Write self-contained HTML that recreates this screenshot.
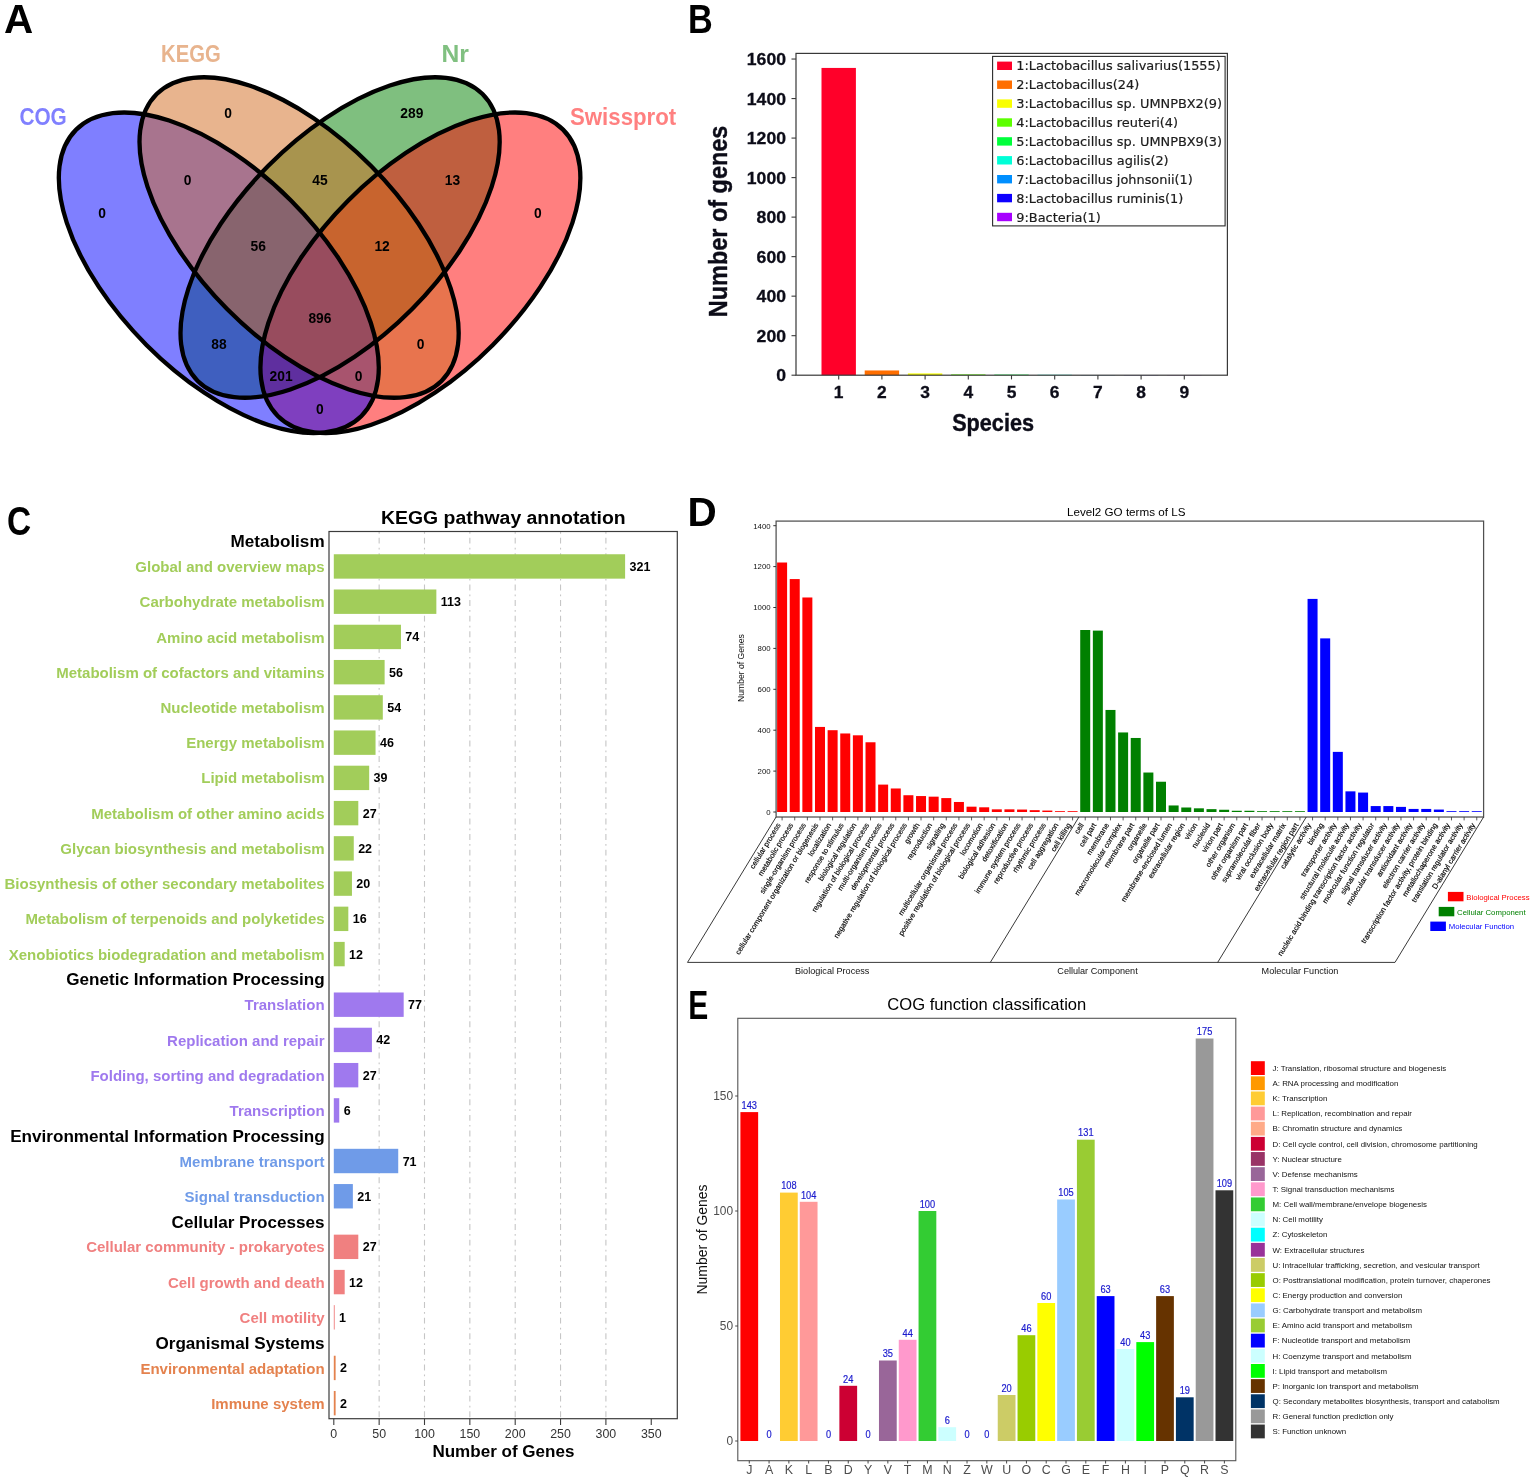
<!DOCTYPE html>
<html lang="en">
<head>
<meta charset="utf-8">
<title>Functional annotation of genes: Venn, species, KEGG, GO and COG</title>
<style>
html,body{margin:0;padding:0;background:#fff;}
body{width:1535px;height:1480px;overflow:hidden;}
svg{display:block;font-family:'Liberation Sans',Arial,Helvetica,sans-serif;}
</style>
</head>
<body>
<svg width="1535" height="1480" viewBox="0 0 1535 1480">
<rect width="1535" height="1480" fill="#fff"/>
<g id="panel-a">
<text x="4.09" y="32.7" font-size="40" font-weight="bold" fill="#000" textLength="29.21" lengthAdjust="spacingAndGlyphs">A</text>
<ellipse cx="340.1" cy="237.5" rx="202.1" ry="101.5" transform="rotate(-45.2 340.1 237.5)" fill="#008000" fill-opacity="0.5"/>
<ellipse cx="420.4" cy="272.8" rx="202.1" ry="102.2" transform="rotate(-45.1 420.4 272.8)" fill="#ff0000" fill-opacity="0.5"/>
<ellipse cx="218.8" cy="272.8" rx="202.1" ry="102.2" transform="rotate(45.1 218.8 272.8)" fill="#0000ff" fill-opacity="0.5"/>
<ellipse cx="299.1" cy="237.5" rx="202.1" ry="101.5" transform="rotate(45.2 299.1 237.5)" fill="#d2691e" fill-opacity="0.5"/>
<ellipse cx="340.1" cy="237.5" rx="202.1" ry="101.5" transform="rotate(-45.2 340.1 237.5)" fill="none" stroke="#000" stroke-width="4.3"/>
<ellipse cx="420.4" cy="272.8" rx="202.1" ry="102.2" transform="rotate(-45.1 420.4 272.8)" fill="none" stroke="#000" stroke-width="4.3"/>
<ellipse cx="218.8" cy="272.8" rx="202.1" ry="102.2" transform="rotate(45.1 218.8 272.8)" fill="none" stroke="#000" stroke-width="4.3"/>
<ellipse cx="299.1" cy="237.5" rx="202.1" ry="101.5" transform="rotate(45.2 299.1 237.5)" fill="none" stroke="#000" stroke-width="4.3"/>
<text x="19.4" y="125.4" font-size="23.4" font-weight="bold" fill="#8080ff" textLength="47.4" lengthAdjust="spacingAndGlyphs">COG</text>
<text x="161" y="62" font-size="23.4" font-weight="bold" fill="#e8b48e" textLength="59.7" lengthAdjust="spacingAndGlyphs">KEGG</text>
<text x="441.4" y="62.1" font-size="23.4" font-weight="bold" fill="#80c080" textLength="27.4" lengthAdjust="spacingAndGlyphs">Nr</text>
<text x="570" y="125" font-size="23.4" font-weight="bold" fill="#ff8080" textLength="106.2" lengthAdjust="spacingAndGlyphs">Swissprot</text>
<g font-weight="bold" font-size="13.8" text-anchor="middle" fill="#000">
<text x="102.1" y="217.9">0</text>
<text x="228.2" y="117.9">0</text>
<text x="187.5" y="185.1">0</text>
<text x="319.9" y="185.1">45</text>
<text x="258.3" y="250.7">56</text>
<text x="319.9" y="322.5">896</text>
<text x="218.9" y="349">88</text>
<text x="281.1" y="381.4">201</text>
<text x="358.6" y="381.4">0</text>
<text x="420.6" y="349">0</text>
<text x="319.9" y="413.7">0</text>
<text x="382.1" y="251.2">12</text>
<text x="411.8" y="117.9">289</text>
<text x="452.5" y="185.1">13</text>
<text x="537.9" y="217.9">0</text>
</g>
</g>
<g id="panel-b">
<text x="687.89" y="32.7" font-size="40" font-weight="bold" fill="#000" textLength="24.74" lengthAdjust="spacingAndGlyphs">B</text>
<rect x="821.5" y="67.93" width="34.4" height="307.27" fill="#ff0029"/>
<rect x="864.7" y="370.46" width="34.4" height="4.74" fill="#ff6e00"/>
<rect x="907.9" y="373.42" width="34.4" height="1.78" fill="#f9ff00"/>
<rect x="951.1" y="374.41" width="34.4" height="0.79" fill="#5cff00"/>
<rect x="994.3" y="374.61" width="34.4" height="0.59" fill="#00ff3b"/>
<rect x="1037.5" y="374.8" width="34.4" height="0.4" fill="#00ffd7"/>
<rect x="1080.7" y="375" width="34.4" height="0.2" fill="#008fff"/>
<rect x="1123.9" y="375" width="34.4" height="0.2" fill="#0e00ff"/>
<rect x="1167.1" y="375" width="34.4" height="0.2" fill="#a700ff"/>
<rect x="796" y="53.4" width="431.4" height="321.8" fill="none" stroke="#383838" stroke-width="1.2"/>
<g font-weight="bold" font-size="17.4" fill="#0c0c18" stroke="#0c0c18" stroke-width="0.3" text-anchor="end">
<line x1="791.5" y1="375.2" x2="796" y2="375.2" stroke="#3a3a3a" stroke-width="1.1"/>
<text x="786" y="381.3" textLength="9.8" lengthAdjust="spacingAndGlyphs">0</text>
<line x1="791.5" y1="335.68" x2="796" y2="335.68" stroke="#3a3a3a" stroke-width="1.1"/>
<text x="786" y="341.78" textLength="29.4" lengthAdjust="spacingAndGlyphs">200</text>
<line x1="791.5" y1="296.16" x2="796" y2="296.16" stroke="#3a3a3a" stroke-width="1.1"/>
<text x="786" y="302.26" textLength="29.4" lengthAdjust="spacingAndGlyphs">400</text>
<line x1="791.5" y1="256.64" x2="796" y2="256.64" stroke="#3a3a3a" stroke-width="1.1"/>
<text x="786" y="262.74" textLength="29.4" lengthAdjust="spacingAndGlyphs">600</text>
<line x1="791.5" y1="217.12" x2="796" y2="217.12" stroke="#3a3a3a" stroke-width="1.1"/>
<text x="786" y="223.22" textLength="29.4" lengthAdjust="spacingAndGlyphs">800</text>
<line x1="791.5" y1="177.6" x2="796" y2="177.6" stroke="#3a3a3a" stroke-width="1.1"/>
<text x="786" y="183.7" textLength="39.2" lengthAdjust="spacingAndGlyphs">1000</text>
<line x1="791.5" y1="138.08" x2="796" y2="138.08" stroke="#3a3a3a" stroke-width="1.1"/>
<text x="786" y="144.18" textLength="39.2" lengthAdjust="spacingAndGlyphs">1200</text>
<line x1="791.5" y1="98.56" x2="796" y2="98.56" stroke="#3a3a3a" stroke-width="1.1"/>
<text x="786" y="104.66" textLength="39.2" lengthAdjust="spacingAndGlyphs">1400</text>
<line x1="791.5" y1="59.04" x2="796" y2="59.04" stroke="#3a3a3a" stroke-width="1.1"/>
<text x="786" y="65.14" textLength="39.2" lengthAdjust="spacingAndGlyphs">1600</text>
</g>
<g font-weight="bold" font-size="17.4" fill="#0c0c18" stroke="#0c0c18" stroke-width="0.3" text-anchor="middle">
<line x1="838.7" y1="375.2" x2="838.7" y2="379.4" stroke="#3a3a3a" stroke-width="1.1"/>
<text x="838.7" y="398.1">1</text>
<line x1="881.9" y1="375.2" x2="881.9" y2="379.4" stroke="#3a3a3a" stroke-width="1.1"/>
<text x="881.9" y="398.1">2</text>
<line x1="925.1" y1="375.2" x2="925.1" y2="379.4" stroke="#3a3a3a" stroke-width="1.1"/>
<text x="925.1" y="398.1">3</text>
<line x1="968.3" y1="375.2" x2="968.3" y2="379.4" stroke="#3a3a3a" stroke-width="1.1"/>
<text x="968.3" y="398.1">4</text>
<line x1="1011.5" y1="375.2" x2="1011.5" y2="379.4" stroke="#3a3a3a" stroke-width="1.1"/>
<text x="1011.5" y="398.1">5</text>
<line x1="1054.7" y1="375.2" x2="1054.7" y2="379.4" stroke="#3a3a3a" stroke-width="1.1"/>
<text x="1054.7" y="398.1">6</text>
<line x1="1097.9" y1="375.2" x2="1097.9" y2="379.4" stroke="#3a3a3a" stroke-width="1.1"/>
<text x="1097.9" y="398.1">7</text>
<line x1="1141.1" y1="375.2" x2="1141.1" y2="379.4" stroke="#3a3a3a" stroke-width="1.1"/>
<text x="1141.1" y="398.1">8</text>
<line x1="1184.3" y1="375.2" x2="1184.3" y2="379.4" stroke="#3a3a3a" stroke-width="1.1"/>
<text x="1184.3" y="398.1">9</text>
</g>
<text x="993.1" y="430.5" font-size="23" text-anchor="middle" font-weight="bold" fill="#0c0c18" textLength="81.8" lengthAdjust="spacingAndGlyphs" stroke="#0c0c18" stroke-width="0.4">Species</text>
<text transform="translate(726.6 221.4) rotate(-90)" font-size="26" text-anchor="middle" font-weight="bold" fill="#0c0c18" textLength="191.6" lengthAdjust="spacingAndGlyphs" stroke="#0c0c18" stroke-width="0.4">Number of genes</text>
<rect x="992.6" y="56.4" width="232.5" height="169.5" fill="#fff" stroke="#2a2a2a" stroke-width="1.1"/>
<g font-family="'DejaVu Sans', 'Liberation Sans', sans-serif" font-size="12.9" fill="#1c1c1c" stroke="#1c1c1c" stroke-width="0.2">
<rect x="997.1" y="61.6" width="14.9" height="8.4" fill="#ff0029" stroke="none"/>
<text x="1016.3" y="69.6">1:Lactobacillus salivarius(1555)</text>
<rect x="997.1" y="80.5" width="14.9" height="8.4" fill="#ff6e00" stroke="none"/>
<text x="1016.3" y="89.4">2:Lactobacillus(24)</text>
<rect x="997.1" y="99.4" width="14.9" height="8.4" fill="#f9ff00" stroke="none"/>
<text x="1016.3" y="108.3">3:Lactobacillus sp. UMNPBX2(9)</text>
<rect x="997.1" y="118.3" width="14.9" height="8.4" fill="#5cff00" stroke="none"/>
<text x="1016.3" y="127.2">4:Lactobacillus reuteri(4)</text>
<rect x="997.1" y="137.2" width="14.9" height="8.4" fill="#00ff3b" stroke="none"/>
<text x="1016.3" y="146.1">5:Lactobacillus sp. UMNPBX9(3)</text>
<rect x="997.1" y="156.1" width="14.9" height="8.4" fill="#00ffd7" stroke="none"/>
<text x="1016.3" y="165">6:Lactobacillus agilis(2)</text>
<rect x="997.1" y="175" width="14.9" height="8.4" fill="#008fff" stroke="none"/>
<text x="1016.3" y="183.9">7:Lactobacillus johnsonii(1)</text>
<rect x="997.1" y="193.9" width="14.9" height="8.4" fill="#0e00ff" stroke="none"/>
<text x="1016.3" y="202.8">8:Lactobacillus ruminis(1)</text>
<rect x="997.1" y="212.8" width="14.9" height="8.4" fill="#a700ff" stroke="none"/>
<text x="1016.3" y="221.7">9:Bacteria(1)</text>
</g>
</g>
<g id="panel-c">
<text x="7.06" y="534.9" font-size="40" font-weight="bold" fill="#000" textLength="24.15" lengthAdjust="spacingAndGlyphs">C</text>
<text x="503.4" y="523.7" font-size="17.6" text-anchor="middle" font-weight="bold" fill="#000" textLength="244.6" lengthAdjust="spacingAndGlyphs">KEGG pathway annotation</text>
<line x1="379.15" y1="531.5" x2="379.15" y2="1418.7" stroke="#c6c6c6" stroke-width="1.1" stroke-dasharray="5.9 4.1 1.7 3.9" stroke-dashoffset="9.4"/>
<line x1="424.5" y1="531.5" x2="424.5" y2="1418.7" stroke="#c6c6c6" stroke-width="1.1" stroke-dasharray="5.9 4.1 1.7 3.9" stroke-dashoffset="9.4"/>
<line x1="469.85" y1="531.5" x2="469.85" y2="1418.7" stroke="#c6c6c6" stroke-width="1.1" stroke-dasharray="5.9 4.1 1.7 3.9" stroke-dashoffset="9.4"/>
<line x1="515.2" y1="531.5" x2="515.2" y2="1418.7" stroke="#c6c6c6" stroke-width="1.1" stroke-dasharray="5.9 4.1 1.7 3.9" stroke-dashoffset="9.4"/>
<line x1="560.55" y1="531.5" x2="560.55" y2="1418.7" stroke="#c6c6c6" stroke-width="1.1" stroke-dasharray="5.9 4.1 1.7 3.9" stroke-dashoffset="9.4"/>
<line x1="605.9" y1="531.5" x2="605.9" y2="1418.7" stroke="#c6c6c6" stroke-width="1.1" stroke-dasharray="5.9 4.1 1.7 3.9" stroke-dashoffset="9.4"/>
<rect x="333.8" y="554.25" width="291.31" height="24.4" fill="#a2cd5a"/>
<rect x="333.8" y="589.49" width="102.55" height="24.4" fill="#a2cd5a"/>
<rect x="333.8" y="624.73" width="67.16" height="24.4" fill="#a2cd5a"/>
<rect x="333.8" y="659.97" width="50.82" height="24.4" fill="#a2cd5a"/>
<rect x="333.8" y="695.21" width="49" height="24.4" fill="#a2cd5a"/>
<rect x="333.8" y="730.45" width="41.74" height="24.4" fill="#a2cd5a"/>
<rect x="333.8" y="765.69" width="35.39" height="24.4" fill="#a2cd5a"/>
<rect x="333.8" y="800.93" width="24.5" height="24.4" fill="#a2cd5a"/>
<rect x="333.8" y="836.17" width="19.96" height="24.4" fill="#a2cd5a"/>
<rect x="333.8" y="871.41" width="18.15" height="24.4" fill="#a2cd5a"/>
<rect x="333.8" y="906.65" width="14.52" height="24.4" fill="#a2cd5a"/>
<rect x="333.8" y="941.89" width="10.89" height="24.4" fill="#a2cd5a"/>
<rect x="333.8" y="992.49" width="69.88" height="24.4" fill="#9f79ee"/>
<rect x="333.8" y="1027.73" width="38.12" height="24.4" fill="#9f79ee"/>
<rect x="333.8" y="1062.97" width="24.5" height="24.4" fill="#9f79ee"/>
<rect x="333.8" y="1098.21" width="5.45" height="24.4" fill="#9f79ee"/>
<rect x="333.8" y="1148.81" width="64.43" height="24.4" fill="#6f9be8"/>
<rect x="333.8" y="1184.05" width="19.06" height="24.4" fill="#6f9be8"/>
<rect x="333.8" y="1234.65" width="24.5" height="24.4" fill="#f08080"/>
<rect x="333.8" y="1269.89" width="10.89" height="24.4" fill="#f08080"/>
<rect x="333.8" y="1305.13" width="0.91" height="24.4" fill="#f08080"/>
<rect x="333.8" y="1355.73" width="1.81" height="24.4" fill="#e4824e"/>
<rect x="333.8" y="1390.97" width="1.81" height="24.4" fill="#e4824e"/>
<rect x="329" y="531.5" width="348.3" height="887.2" fill="none" stroke="#3c3c3c" stroke-width="1.2"/>
<text x="324.6" y="547.25" font-size="17.1" text-anchor="end" font-weight="bold" fill="#000">Metabolism</text>
<text x="324.6" y="572.05" font-size="15" text-anchor="end" font-weight="bold" fill="#a2cd5a">Global and overview maps</text>
<text x="324.6" y="607.29" font-size="15" text-anchor="end" font-weight="bold" fill="#a2cd5a">Carbohydrate metabolism</text>
<text x="324.6" y="642.53" font-size="15" text-anchor="end" font-weight="bold" fill="#a2cd5a">Amino acid metabolism</text>
<text x="324.6" y="677.77" font-size="15" text-anchor="end" font-weight="bold" fill="#a2cd5a">Metabolism of cofactors and vitamins</text>
<text x="324.6" y="713.01" font-size="15" text-anchor="end" font-weight="bold" fill="#a2cd5a">Nucleotide metabolism</text>
<text x="324.6" y="748.25" font-size="15" text-anchor="end" font-weight="bold" fill="#a2cd5a">Energy metabolism</text>
<text x="324.6" y="783.49" font-size="15" text-anchor="end" font-weight="bold" fill="#a2cd5a">Lipid metabolism</text>
<text x="324.6" y="818.73" font-size="15" text-anchor="end" font-weight="bold" fill="#a2cd5a">Metabolism of other amino acids</text>
<text x="324.6" y="853.97" font-size="15" text-anchor="end" font-weight="bold" fill="#a2cd5a">Glycan biosynthesis and metabolism</text>
<text x="324.6" y="889.21" font-size="15" text-anchor="end" font-weight="bold" fill="#a2cd5a">Biosynthesis of other secondary metabolites</text>
<text x="324.6" y="924.45" font-size="15" text-anchor="end" font-weight="bold" fill="#a2cd5a">Metabolism of terpenoids and polyketides</text>
<text x="324.6" y="959.69" font-size="15" text-anchor="end" font-weight="bold" fill="#a2cd5a">Xenobiotics biodegradation and metabolism</text>
<text x="324.6" y="985.49" font-size="17.1" text-anchor="end" font-weight="bold" fill="#000">Genetic Information Processing</text>
<text x="324.6" y="1010.29" font-size="15" text-anchor="end" font-weight="bold" fill="#9f79ee">Translation</text>
<text x="324.6" y="1045.53" font-size="15" text-anchor="end" font-weight="bold" fill="#9f79ee">Replication and repair</text>
<text x="324.6" y="1080.77" font-size="15" text-anchor="end" font-weight="bold" fill="#9f79ee">Folding, sorting and degradation</text>
<text x="324.6" y="1116.01" font-size="15" text-anchor="end" font-weight="bold" fill="#9f79ee">Transcription</text>
<text x="324.6" y="1141.81" font-size="17.1" text-anchor="end" font-weight="bold" fill="#000">Environmental Information Processing</text>
<text x="324.6" y="1166.61" font-size="15" text-anchor="end" font-weight="bold" fill="#6f9be8">Membrane transport</text>
<text x="324.6" y="1201.85" font-size="15" text-anchor="end" font-weight="bold" fill="#6f9be8">Signal transduction</text>
<text x="324.6" y="1227.65" font-size="17.1" text-anchor="end" font-weight="bold" fill="#000">Cellular Processes</text>
<text x="324.6" y="1252.45" font-size="15" text-anchor="end" font-weight="bold" fill="#f08080">Cellular community - prokaryotes</text>
<text x="324.6" y="1287.69" font-size="15" text-anchor="end" font-weight="bold" fill="#f08080">Cell growth and death</text>
<text x="324.6" y="1322.93" font-size="15" text-anchor="end" font-weight="bold" fill="#f08080">Cell motility</text>
<text x="324.6" y="1348.73" font-size="17.1" text-anchor="end" font-weight="bold" fill="#000">Organismal Systems</text>
<text x="324.6" y="1373.53" font-size="15" text-anchor="end" font-weight="bold" fill="#e4824e">Environmental adaptation</text>
<text x="324.6" y="1408.77" font-size="15" text-anchor="end" font-weight="bold" fill="#e4824e">Immune system</text>
<text x="629.51" y="570.95" font-size="12.5" font-weight="bold" fill="#000">321</text>
<text x="440.75" y="606.19" font-size="12.5" font-weight="bold" fill="#000">113</text>
<text x="405.36" y="641.43" font-size="12.5" font-weight="bold" fill="#000">74</text>
<text x="389.02" y="676.67" font-size="12.5" font-weight="bold" fill="#000">56</text>
<text x="387.2" y="711.91" font-size="12.5" font-weight="bold" fill="#000">54</text>
<text x="379.94" y="747.15" font-size="12.5" font-weight="bold" fill="#000">46</text>
<text x="373.59" y="782.39" font-size="12.5" font-weight="bold" fill="#000">39</text>
<text x="362.7" y="817.63" font-size="12.5" font-weight="bold" fill="#000">27</text>
<text x="358.16" y="852.87" font-size="12.5" font-weight="bold" fill="#000">22</text>
<text x="356.35" y="888.11" font-size="12.5" font-weight="bold" fill="#000">20</text>
<text x="352.72" y="923.35" font-size="12.5" font-weight="bold" fill="#000">16</text>
<text x="349.09" y="958.59" font-size="12.5" font-weight="bold" fill="#000">12</text>
<text x="408.08" y="1009.19" font-size="12.5" font-weight="bold" fill="#000">77</text>
<text x="376.31" y="1044.43" font-size="12.5" font-weight="bold" fill="#000">42</text>
<text x="362.7" y="1079.67" font-size="12.5" font-weight="bold" fill="#000">27</text>
<text x="343.64" y="1114.91" font-size="12.5" font-weight="bold" fill="#000">6</text>
<text x="402.63" y="1165.51" font-size="12.5" font-weight="bold" fill="#000">71</text>
<text x="357.26" y="1200.75" font-size="12.5" font-weight="bold" fill="#000">21</text>
<text x="362.7" y="1251.35" font-size="12.5" font-weight="bold" fill="#000">27</text>
<text x="349.09" y="1286.59" font-size="12.5" font-weight="bold" fill="#000">12</text>
<text x="339.11" y="1321.83" font-size="12.5" font-weight="bold" fill="#000">1</text>
<text x="340.01" y="1372.43" font-size="12.5" font-weight="bold" fill="#000">2</text>
<text x="340.01" y="1407.67" font-size="12.5" font-weight="bold" fill="#000">2</text>
<g font-size="12.4" fill="#333" text-anchor="middle">
<line x1="333.8" y1="1418.7" x2="333.8" y2="1425" stroke="#3c3c3c" stroke-width="1.1"/>
<text x="333.8" y="1438.3">0</text>
<line x1="379.15" y1="1418.7" x2="379.15" y2="1425" stroke="#3c3c3c" stroke-width="1.1"/>
<text x="379.15" y="1438.3">50</text>
<line x1="424.5" y1="1418.7" x2="424.5" y2="1425" stroke="#3c3c3c" stroke-width="1.1"/>
<text x="424.5" y="1438.3">100</text>
<line x1="469.85" y1="1418.7" x2="469.85" y2="1425" stroke="#3c3c3c" stroke-width="1.1"/>
<text x="469.85" y="1438.3">150</text>
<line x1="515.2" y1="1418.7" x2="515.2" y2="1425" stroke="#3c3c3c" stroke-width="1.1"/>
<text x="515.2" y="1438.3">200</text>
<line x1="560.55" y1="1418.7" x2="560.55" y2="1425" stroke="#3c3c3c" stroke-width="1.1"/>
<text x="560.55" y="1438.3">250</text>
<line x1="605.9" y1="1418.7" x2="605.9" y2="1425" stroke="#3c3c3c" stroke-width="1.1"/>
<text x="605.9" y="1438.3">300</text>
<line x1="651.25" y1="1418.7" x2="651.25" y2="1425" stroke="#3c3c3c" stroke-width="1.1"/>
<text x="651.25" y="1438.3">350</text>
</g>
<text x="503.4" y="1457.2" font-size="16.4" text-anchor="middle" font-weight="bold" fill="#000" textLength="142" lengthAdjust="spacingAndGlyphs">Number of Genes</text>
</g>
<g id="panel-d">
<text x="687.47" y="525.7" font-size="40" font-weight="bold" fill="#000" textLength="29.24" lengthAdjust="spacingAndGlyphs">D</text>
<text x="1126.2" y="516" font-size="11.7" text-anchor="middle" fill="#000" textLength="118.4" lengthAdjust="spacingAndGlyphs">Level2 GO terms of LS</text>
<rect x="777.1" y="562.51" width="10" height="249.49" fill="#ff0000"/>
<rect x="789.73" y="579.07" width="10" height="232.93" fill="#ff0000"/>
<rect x="802.36" y="597.48" width="10" height="214.52" fill="#ff0000"/>
<rect x="814.99" y="726.93" width="10" height="85.07" fill="#ff0000"/>
<rect x="827.62" y="730.2" width="10" height="81.8" fill="#ff0000"/>
<rect x="840.25" y="733.47" width="10" height="78.53" fill="#ff0000"/>
<rect x="852.88" y="735.31" width="10" height="76.69" fill="#ff0000"/>
<rect x="865.51" y="742.27" width="10" height="69.73" fill="#ff0000"/>
<rect x="878.14" y="784.6" width="10" height="27.4" fill="#ff0000"/>
<rect x="890.77" y="788.48" width="10" height="23.52" fill="#ff0000"/>
<rect x="903.4" y="795.23" width="10" height="16.77" fill="#ff0000"/>
<rect x="916.03" y="796.05" width="10" height="15.95" fill="#ff0000"/>
<rect x="928.66" y="796.66" width="10" height="15.34" fill="#ff0000"/>
<rect x="941.29" y="798.09" width="10" height="13.91" fill="#ff0000"/>
<rect x="953.92" y="801.98" width="10" height="10.02" fill="#ff0000"/>
<rect x="966.55" y="806.68" width="10" height="5.32" fill="#ff0000"/>
<rect x="979.18" y="807.3" width="10" height="4.7" fill="#ff0000"/>
<rect x="991.81" y="809.34" width="10" height="2.66" fill="#ff0000"/>
<rect x="1004.44" y="809.34" width="10" height="2.66" fill="#ff0000"/>
<rect x="1017.07" y="809.55" width="10" height="2.45" fill="#ff0000"/>
<rect x="1029.7" y="810.16" width="10" height="1.84" fill="#ff0000"/>
<rect x="1042.33" y="810.57" width="10" height="1.43" fill="#ff0000"/>
<rect x="1054.96" y="811.18" width="10" height="0.82" fill="#ff0000"/>
<rect x="1067.59" y="811.18" width="10" height="0.82" fill="#ff0000"/>
<rect x="1080.22" y="630" width="10" height="182" fill="#008000"/>
<rect x="1092.85" y="630.61" width="10" height="181.39" fill="#008000"/>
<rect x="1105.48" y="709.95" width="10" height="102.05" fill="#008000"/>
<rect x="1118.11" y="732.45" width="10" height="79.55" fill="#008000"/>
<rect x="1130.74" y="737.97" width="10" height="74.03" fill="#008000"/>
<rect x="1143.37" y="772.53" width="10" height="39.47" fill="#008000"/>
<rect x="1156" y="781.73" width="10" height="30.27" fill="#008000"/>
<rect x="1168.63" y="805.46" width="10" height="6.54" fill="#008000"/>
<rect x="1181.26" y="807.5" width="10" height="4.5" fill="#008000"/>
<rect x="1193.89" y="808.32" width="10" height="3.68" fill="#008000"/>
<rect x="1206.52" y="809.14" width="10" height="2.86" fill="#008000"/>
<rect x="1219.15" y="809.75" width="10" height="2.25" fill="#008000"/>
<rect x="1231.78" y="810.77" width="10" height="1.23" fill="#008000"/>
<rect x="1244.41" y="810.77" width="10" height="1.23" fill="#008000"/>
<rect x="1257.04" y="811.18" width="10" height="0.82" fill="#008000"/>
<rect x="1269.67" y="811.18" width="10" height="0.82" fill="#008000"/>
<rect x="1282.3" y="811.2" width="10" height="0.8" fill="#008000"/>
<rect x="1294.93" y="811.2" width="10" height="0.8" fill="#008000"/>
<rect x="1307.56" y="598.91" width="10" height="213.09" fill="#0000ff"/>
<rect x="1320.19" y="638.38" width="10" height="173.62" fill="#0000ff"/>
<rect x="1332.82" y="751.88" width="10" height="60.12" fill="#0000ff"/>
<rect x="1345.45" y="791.35" width="10" height="20.65" fill="#0000ff"/>
<rect x="1358.08" y="792.57" width="10" height="19.43" fill="#0000ff"/>
<rect x="1370.71" y="806.07" width="10" height="5.93" fill="#0000ff"/>
<rect x="1383.34" y="806.07" width="10" height="5.93" fill="#0000ff"/>
<rect x="1395.97" y="806.89" width="10" height="5.11" fill="#0000ff"/>
<rect x="1408.6" y="808.93" width="10" height="3.07" fill="#0000ff"/>
<rect x="1421.23" y="808.93" width="10" height="3.07" fill="#0000ff"/>
<rect x="1433.86" y="809.55" width="10" height="2.45" fill="#0000ff"/>
<rect x="1446.49" y="811.18" width="10" height="0.82" fill="#0000ff"/>
<rect x="1459.12" y="811.18" width="10" height="0.82" fill="#0000ff"/>
<rect x="1471.75" y="811.2" width="10" height="0.8" fill="#0000ff"/>
<rect x="776.1" y="521.1" width="707.5" height="295.9" fill="none" stroke="#505050" stroke-width="1.25"/>
<line x1="782.1" y1="817" x2="782.1" y2="820.4" stroke="#333" stroke-width="0.8"/>
<line x1="794.73" y1="817" x2="794.73" y2="820.4" stroke="#333" stroke-width="0.8"/>
<line x1="807.36" y1="817" x2="807.36" y2="820.4" stroke="#333" stroke-width="0.8"/>
<line x1="819.99" y1="817" x2="819.99" y2="820.4" stroke="#333" stroke-width="0.8"/>
<line x1="832.62" y1="817" x2="832.62" y2="820.4" stroke="#333" stroke-width="0.8"/>
<line x1="845.25" y1="817" x2="845.25" y2="820.4" stroke="#333" stroke-width="0.8"/>
<line x1="857.88" y1="817" x2="857.88" y2="820.4" stroke="#333" stroke-width="0.8"/>
<line x1="870.51" y1="817" x2="870.51" y2="820.4" stroke="#333" stroke-width="0.8"/>
<line x1="883.14" y1="817" x2="883.14" y2="820.4" stroke="#333" stroke-width="0.8"/>
<line x1="895.77" y1="817" x2="895.77" y2="820.4" stroke="#333" stroke-width="0.8"/>
<line x1="908.4" y1="817" x2="908.4" y2="820.4" stroke="#333" stroke-width="0.8"/>
<line x1="921.03" y1="817" x2="921.03" y2="820.4" stroke="#333" stroke-width="0.8"/>
<line x1="933.66" y1="817" x2="933.66" y2="820.4" stroke="#333" stroke-width="0.8"/>
<line x1="946.29" y1="817" x2="946.29" y2="820.4" stroke="#333" stroke-width="0.8"/>
<line x1="958.92" y1="817" x2="958.92" y2="820.4" stroke="#333" stroke-width="0.8"/>
<line x1="971.55" y1="817" x2="971.55" y2="820.4" stroke="#333" stroke-width="0.8"/>
<line x1="984.18" y1="817" x2="984.18" y2="820.4" stroke="#333" stroke-width="0.8"/>
<line x1="996.81" y1="817" x2="996.81" y2="820.4" stroke="#333" stroke-width="0.8"/>
<line x1="1009.44" y1="817" x2="1009.44" y2="820.4" stroke="#333" stroke-width="0.8"/>
<line x1="1022.07" y1="817" x2="1022.07" y2="820.4" stroke="#333" stroke-width="0.8"/>
<line x1="1034.7" y1="817" x2="1034.7" y2="820.4" stroke="#333" stroke-width="0.8"/>
<line x1="1047.33" y1="817" x2="1047.33" y2="820.4" stroke="#333" stroke-width="0.8"/>
<line x1="1059.96" y1="817" x2="1059.96" y2="820.4" stroke="#333" stroke-width="0.8"/>
<line x1="1072.59" y1="817" x2="1072.59" y2="820.4" stroke="#333" stroke-width="0.8"/>
<line x1="1085.22" y1="817" x2="1085.22" y2="820.4" stroke="#333" stroke-width="0.8"/>
<line x1="1097.85" y1="817" x2="1097.85" y2="820.4" stroke="#333" stroke-width="0.8"/>
<line x1="1110.48" y1="817" x2="1110.48" y2="820.4" stroke="#333" stroke-width="0.8"/>
<line x1="1123.11" y1="817" x2="1123.11" y2="820.4" stroke="#333" stroke-width="0.8"/>
<line x1="1135.74" y1="817" x2="1135.74" y2="820.4" stroke="#333" stroke-width="0.8"/>
<line x1="1148.37" y1="817" x2="1148.37" y2="820.4" stroke="#333" stroke-width="0.8"/>
<line x1="1161" y1="817" x2="1161" y2="820.4" stroke="#333" stroke-width="0.8"/>
<line x1="1173.63" y1="817" x2="1173.63" y2="820.4" stroke="#333" stroke-width="0.8"/>
<line x1="1186.26" y1="817" x2="1186.26" y2="820.4" stroke="#333" stroke-width="0.8"/>
<line x1="1198.89" y1="817" x2="1198.89" y2="820.4" stroke="#333" stroke-width="0.8"/>
<line x1="1211.52" y1="817" x2="1211.52" y2="820.4" stroke="#333" stroke-width="0.8"/>
<line x1="1224.15" y1="817" x2="1224.15" y2="820.4" stroke="#333" stroke-width="0.8"/>
<line x1="1236.78" y1="817" x2="1236.78" y2="820.4" stroke="#333" stroke-width="0.8"/>
<line x1="1249.41" y1="817" x2="1249.41" y2="820.4" stroke="#333" stroke-width="0.8"/>
<line x1="1262.04" y1="817" x2="1262.04" y2="820.4" stroke="#333" stroke-width="0.8"/>
<line x1="1274.67" y1="817" x2="1274.67" y2="820.4" stroke="#333" stroke-width="0.8"/>
<line x1="1287.3" y1="817" x2="1287.3" y2="820.4" stroke="#333" stroke-width="0.8"/>
<line x1="1299.93" y1="817" x2="1299.93" y2="820.4" stroke="#333" stroke-width="0.8"/>
<line x1="1312.56" y1="817" x2="1312.56" y2="820.4" stroke="#333" stroke-width="0.8"/>
<line x1="1325.19" y1="817" x2="1325.19" y2="820.4" stroke="#333" stroke-width="0.8"/>
<line x1="1337.82" y1="817" x2="1337.82" y2="820.4" stroke="#333" stroke-width="0.8"/>
<line x1="1350.45" y1="817" x2="1350.45" y2="820.4" stroke="#333" stroke-width="0.8"/>
<line x1="1363.08" y1="817" x2="1363.08" y2="820.4" stroke="#333" stroke-width="0.8"/>
<line x1="1375.71" y1="817" x2="1375.71" y2="820.4" stroke="#333" stroke-width="0.8"/>
<line x1="1388.34" y1="817" x2="1388.34" y2="820.4" stroke="#333" stroke-width="0.8"/>
<line x1="1400.97" y1="817" x2="1400.97" y2="820.4" stroke="#333" stroke-width="0.8"/>
<line x1="1413.6" y1="817" x2="1413.6" y2="820.4" stroke="#333" stroke-width="0.8"/>
<line x1="1426.23" y1="817" x2="1426.23" y2="820.4" stroke="#333" stroke-width="0.8"/>
<line x1="1438.86" y1="817" x2="1438.86" y2="820.4" stroke="#333" stroke-width="0.8"/>
<line x1="1451.49" y1="817" x2="1451.49" y2="820.4" stroke="#333" stroke-width="0.8"/>
<line x1="1464.12" y1="817" x2="1464.12" y2="820.4" stroke="#333" stroke-width="0.8"/>
<line x1="1476.75" y1="817" x2="1476.75" y2="820.4" stroke="#333" stroke-width="0.8"/>
<g fill="#000" stroke="#000" stroke-width="0.15">
<text transform="translate(778.7 823.6) rotate(-58.6)" font-size="7.5" text-anchor="end" dy="2.6">cellular process</text>
<text transform="translate(791.33 823.6) rotate(-58.6)" font-size="7.5" text-anchor="end" dy="2.6">metabolic process</text>
<text transform="translate(803.96 823.6) rotate(-58.6)" font-size="7.5" text-anchor="end" dy="2.6">single-organism process</text>
<text transform="translate(816.59 823.6) rotate(-58.6)" font-size="7.5" text-anchor="end" dy="2.6">cellular component organization or biogenesis</text>
<text transform="translate(829.22 823.6) rotate(-58.6)" font-size="7.5" text-anchor="end" dy="2.6">localization</text>
<text transform="translate(841.85 823.6) rotate(-58.6)" font-size="7.5" text-anchor="end" dy="2.6">response to stimulus</text>
<text transform="translate(854.48 823.6) rotate(-58.6)" font-size="7.5" text-anchor="end" dy="2.6">biological regulation</text>
<text transform="translate(867.11 823.6) rotate(-58.6)" font-size="7.5" text-anchor="end" dy="2.6">regulation of biological process</text>
<text transform="translate(879.74 823.6) rotate(-58.6)" font-size="7.5" text-anchor="end" dy="2.6">multi-organism process</text>
<text transform="translate(892.37 823.6) rotate(-58.6)" font-size="7.5" text-anchor="end" dy="2.6">developmental process</text>
<text transform="translate(905 823.6) rotate(-58.6)" font-size="7.5" text-anchor="end" dy="2.6">negative regulation of biological process</text>
<text transform="translate(917.63 823.6) rotate(-58.6)" font-size="7.5" text-anchor="end" dy="2.6">growth</text>
<text transform="translate(930.26 823.6) rotate(-58.6)" font-size="7.5" text-anchor="end" dy="2.6">reproduction</text>
<text transform="translate(942.89 823.6) rotate(-58.6)" font-size="7.5" text-anchor="end" dy="2.6">signaling</text>
<text transform="translate(955.52 823.6) rotate(-58.6)" font-size="7.5" text-anchor="end" dy="2.6">multicellular organismal process</text>
<text transform="translate(968.15 823.6) rotate(-58.6)" font-size="7.5" text-anchor="end" dy="2.6">positive regulation of biological process</text>
<text transform="translate(980.78 823.6) rotate(-58.6)" font-size="7.5" text-anchor="end" dy="2.6">locomotion</text>
<text transform="translate(993.41 823.6) rotate(-58.6)" font-size="7.5" text-anchor="end" dy="2.6">biological adhesion</text>
<text transform="translate(1006.04 823.6) rotate(-58.6)" font-size="7.5" text-anchor="end" dy="2.6">detoxification</text>
<text transform="translate(1018.67 823.6) rotate(-58.6)" font-size="7.5" text-anchor="end" dy="2.6">immune system process</text>
<text transform="translate(1031.3 823.6) rotate(-58.6)" font-size="7.5" text-anchor="end" dy="2.6">reproductive process</text>
<text transform="translate(1043.93 823.6) rotate(-58.6)" font-size="7.5" text-anchor="end" dy="2.6">rhythmic process</text>
<text transform="translate(1056.56 823.6) rotate(-58.6)" font-size="7.5" text-anchor="end" dy="2.6">cell aggregation</text>
<text transform="translate(1069.19 823.6) rotate(-58.6)" font-size="7.5" text-anchor="end" dy="2.6">cell killing</text>
<text transform="translate(1081.82 823.6) rotate(-58.6)" font-size="7.5" text-anchor="end" dy="2.6">cell</text>
<text transform="translate(1094.45 823.6) rotate(-58.6)" font-size="7.5" text-anchor="end" dy="2.6">cell part</text>
<text transform="translate(1107.08 823.6) rotate(-58.6)" font-size="7.5" text-anchor="end" dy="2.6">membrane</text>
<text transform="translate(1119.71 823.6) rotate(-58.6)" font-size="7.5" text-anchor="end" dy="2.6">macromolecular complex</text>
<text transform="translate(1132.34 823.6) rotate(-58.6)" font-size="7.5" text-anchor="end" dy="2.6">membrane part</text>
<text transform="translate(1144.97 823.6) rotate(-58.6)" font-size="7.5" text-anchor="end" dy="2.6">organelle</text>
<text transform="translate(1157.6 823.6) rotate(-58.6)" font-size="7.5" text-anchor="end" dy="2.6">organelle part</text>
<text transform="translate(1170.23 823.6) rotate(-58.6)" font-size="7.5" text-anchor="end" dy="2.6">membrane-enclosed lumen</text>
<text transform="translate(1182.86 823.6) rotate(-58.6)" font-size="7.5" text-anchor="end" dy="2.6">extracellular region</text>
<text transform="translate(1195.49 823.6) rotate(-58.6)" font-size="7.5" text-anchor="end" dy="2.6">virion</text>
<text transform="translate(1208.12 823.6) rotate(-58.6)" font-size="7.5" text-anchor="end" dy="2.6">nucleoid</text>
<text transform="translate(1220.75 823.6) rotate(-58.6)" font-size="7.5" text-anchor="end" dy="2.6">virion part</text>
<text transform="translate(1233.38 823.6) rotate(-58.6)" font-size="7.5" text-anchor="end" dy="2.6">other organism</text>
<text transform="translate(1246.01 823.6) rotate(-58.6)" font-size="7.5" text-anchor="end" dy="2.6">other organism part</text>
<text transform="translate(1258.64 823.6) rotate(-58.6)" font-size="7.5" text-anchor="end" dy="2.6">supramolecular fiber</text>
<text transform="translate(1271.27 823.6) rotate(-58.6)" font-size="7.5" text-anchor="end" dy="2.6">viral occlusion body</text>
<text transform="translate(1283.9 823.6) rotate(-58.6)" font-size="7.5" text-anchor="end" dy="2.6">extracellular matrix</text>
<text transform="translate(1296.53 823.6) rotate(-58.6)" font-size="7.5" text-anchor="end" dy="2.6">extracellular region part</text>
<text transform="translate(1309.16 823.6) rotate(-58.6)" font-size="7.5" text-anchor="end" dy="2.6">catalytic activity</text>
<text transform="translate(1321.79 823.6) rotate(-58.6)" font-size="7.5" text-anchor="end" dy="2.6">binding</text>
<text transform="translate(1334.42 823.6) rotate(-58.6)" font-size="7.5" text-anchor="end" dy="2.6">transporter activity</text>
<text transform="translate(1347.05 823.6) rotate(-58.6)" font-size="7.5" text-anchor="end" dy="2.6">structural molecule activity</text>
<text transform="translate(1359.68 823.6) rotate(-58.6)" font-size="7.5" text-anchor="end" dy="2.6">nucleic acid binding transcription factor activity</text>
<text transform="translate(1372.31 823.6) rotate(-58.6)" font-size="7.5" text-anchor="end" dy="2.6">molecular function regulator</text>
<text transform="translate(1384.94 823.6) rotate(-58.6)" font-size="7.5" text-anchor="end" dy="2.6">signal transducer activity</text>
<text transform="translate(1397.57 823.6) rotate(-58.6)" font-size="7.5" text-anchor="end" dy="2.6">molecular transducer activity</text>
<text transform="translate(1410.2 823.6) rotate(-58.6)" font-size="7.5" text-anchor="end" dy="2.6">antioxidant activity</text>
<text transform="translate(1422.83 823.6) rotate(-58.6)" font-size="7.5" text-anchor="end" dy="2.6">electron carrier activity</text>
<text transform="translate(1435.46 823.6) rotate(-58.6)" font-size="7.5" text-anchor="end" dy="2.6">transcription factor activity, protein binding</text>
<text transform="translate(1448.09 823.6) rotate(-58.6)" font-size="7.5" text-anchor="end" dy="2.6">metallochaperone activity</text>
<text transform="translate(1460.72 823.6) rotate(-58.6)" font-size="7.5" text-anchor="end" dy="2.6">translation regulator activity</text>
<text transform="translate(1473.35 823.6) rotate(-58.6)" font-size="7.5" text-anchor="end" dy="2.6">D-alanyl carrier activity</text>
</g>
<g font-size="7.8" fill="#111" text-anchor="end">
<line x1="773.3" y1="812" x2="776.1" y2="812" stroke="#333" stroke-width="1"/>
<text x="770.6" y="814.8">0</text>
<line x1="773.3" y1="771.1" x2="776.1" y2="771.1" stroke="#333" stroke-width="1"/>
<text x="770.6" y="773.9">200</text>
<line x1="773.3" y1="730.2" x2="776.1" y2="730.2" stroke="#333" stroke-width="1"/>
<text x="770.6" y="733">400</text>
<line x1="773.3" y1="689.3" x2="776.1" y2="689.3" stroke="#333" stroke-width="1"/>
<text x="770.6" y="692.1">600</text>
<line x1="773.3" y1="648.4" x2="776.1" y2="648.4" stroke="#333" stroke-width="1"/>
<text x="770.6" y="651.2">800</text>
<line x1="773.3" y1="607.5" x2="776.1" y2="607.5" stroke="#333" stroke-width="1"/>
<text x="770.6" y="610.3">1000</text>
<line x1="773.3" y1="566.6" x2="776.1" y2="566.6" stroke="#333" stroke-width="1"/>
<text x="770.6" y="569.4">1200</text>
<line x1="773.3" y1="525.7" x2="776.1" y2="525.7" stroke="#333" stroke-width="1"/>
<text x="770.6" y="528.5">1400</text>
</g>
<text transform="translate(743.6 668) rotate(-90)" font-size="8.6" text-anchor="middle" fill="#111">Number of Genes</text>
<line x1="776.1" y1="817" x2="687.5" y2="962.4" stroke="#222" stroke-width="0.9"/>
<line x1="1078.92" y1="817" x2="990.32" y2="962.4" stroke="#222" stroke-width="0.9"/>
<line x1="1306.26" y1="817" x2="1217.66" y2="962.4" stroke="#222" stroke-width="0.9"/>
<line x1="1483.6" y1="817" x2="1395" y2="962.4" stroke="#222" stroke-width="0.9"/>
<line x1="687.5" y1="962.4" x2="1395" y2="962.4" stroke="#222" stroke-width="0.9"/>
<text x="832.2" y="973.8" font-size="9.1" text-anchor="middle" fill="#111">Biological Process</text>
<text x="1097.5" y="973.8" font-size="9.1" text-anchor="middle" fill="#111">Cellular Component</text>
<text x="1300" y="973.8" font-size="9.1" text-anchor="middle" fill="#111">Molecular Function</text>
<rect x="1447.9" y="891.9" width="15.6" height="9.4" fill="#ff0000"/>
<text x="1466.3" y="899.5" font-size="7.75" fill="#ff0000">Biological Process</text>
<rect x="1438.7" y="906.9" width="15.6" height="9.4" fill="#008000"/>
<text x="1457.1" y="914.5" font-size="7.75" fill="#008000">Cellular Component</text>
<rect x="1430.3" y="921.6" width="15.6" height="9.4" fill="#0000ff"/>
<text x="1448.7" y="929.2" font-size="7.75" fill="#0000ff">Molecular Function</text>
</g>
<g id="panel-e">
<text x="688.18" y="1018.7" font-size="40" font-weight="bold" fill="#000" textLength="20.01" lengthAdjust="spacingAndGlyphs">E</text>
<text x="986.8" y="1010.3" font-size="17" text-anchor="middle" fill="#000" textLength="199" lengthAdjust="spacingAndGlyphs">COG function classification</text>
<rect x="740.4" y="1112.1" width="17.75" height="328.9" fill="#ff0000"/>
<rect x="779.99" y="1192.6" width="17.75" height="248.4" fill="#ffcc33"/>
<rect x="799.79" y="1201.8" width="17.75" height="239.2" fill="#ff9999"/>
<rect x="839.38" y="1385.8" width="17.75" height="55.2" fill="#cc0033"/>
<rect x="878.97" y="1360.5" width="17.75" height="80.5" fill="#996699"/>
<rect x="898.77" y="1339.8" width="17.75" height="101.2" fill="#ff99cc"/>
<rect x="918.56" y="1211" width="17.75" height="230" fill="#33cc33"/>
<rect x="938.36" y="1427.2" width="17.75" height="13.8" fill="#ccffff"/>
<rect x="997.75" y="1395" width="17.75" height="46" fill="#cccc66"/>
<rect x="1017.54" y="1335.2" width="17.75" height="105.8" fill="#99cc00"/>
<rect x="1037.34" y="1303" width="17.75" height="138" fill="#ffff00"/>
<rect x="1057.14" y="1199.5" width="17.75" height="241.5" fill="#99ccff"/>
<rect x="1076.93" y="1139.7" width="17.75" height="301.3" fill="#99cc33"/>
<rect x="1096.73" y="1296.1" width="17.75" height="144.9" fill="#0000ff"/>
<rect x="1116.52" y="1349" width="17.75" height="92" fill="#ccffff"/>
<rect x="1136.32" y="1342.1" width="17.75" height="98.9" fill="#00ff00"/>
<rect x="1156.12" y="1296.1" width="17.75" height="144.9" fill="#663300"/>
<rect x="1175.91" y="1397.3" width="17.75" height="43.7" fill="#003366"/>
<rect x="1195.71" y="1038.5" width="17.75" height="402.5" fill="#999999"/>
<rect x="1215.5" y="1190.3" width="17.75" height="250.7" fill="#333333"/>
<rect x="737.8" y="1018.3" width="498" height="442.4" fill="none" stroke="#555" stroke-width="1.1"/>
<g font-size="10.8" fill="#1a1acd" stroke="#1a1acd" stroke-width="0.2" text-anchor="middle">
<text x="749.27" y="1108.8" textLength="15.45" lengthAdjust="spacingAndGlyphs">143</text>
<text x="769.07" y="1437.7" textLength="5.15" lengthAdjust="spacingAndGlyphs">0</text>
<text x="788.87" y="1189.3" textLength="15.45" lengthAdjust="spacingAndGlyphs">108</text>
<text x="808.66" y="1198.5" textLength="15.45" lengthAdjust="spacingAndGlyphs">104</text>
<text x="828.46" y="1437.7" textLength="5.15" lengthAdjust="spacingAndGlyphs">0</text>
<text x="848.25" y="1382.5" textLength="10.3" lengthAdjust="spacingAndGlyphs">24</text>
<text x="868.05" y="1437.7" textLength="5.15" lengthAdjust="spacingAndGlyphs">0</text>
<text x="887.85" y="1357.2" textLength="10.3" lengthAdjust="spacingAndGlyphs">35</text>
<text x="907.64" y="1336.5" textLength="10.3" lengthAdjust="spacingAndGlyphs">44</text>
<text x="927.44" y="1207.7" textLength="15.45" lengthAdjust="spacingAndGlyphs">100</text>
<text x="947.23" y="1423.9" textLength="5.15" lengthAdjust="spacingAndGlyphs">6</text>
<text x="967.03" y="1437.7" textLength="5.15" lengthAdjust="spacingAndGlyphs">0</text>
<text x="986.83" y="1437.7" textLength="5.15" lengthAdjust="spacingAndGlyphs">0</text>
<text x="1006.62" y="1391.7" textLength="10.3" lengthAdjust="spacingAndGlyphs">20</text>
<text x="1026.42" y="1331.9" textLength="10.3" lengthAdjust="spacingAndGlyphs">46</text>
<text x="1046.21" y="1299.7" textLength="10.3" lengthAdjust="spacingAndGlyphs">60</text>
<text x="1066.01" y="1196.2" textLength="15.45" lengthAdjust="spacingAndGlyphs">105</text>
<text x="1085.81" y="1136.4" textLength="15.45" lengthAdjust="spacingAndGlyphs">131</text>
<text x="1105.6" y="1292.8" textLength="10.3" lengthAdjust="spacingAndGlyphs">63</text>
<text x="1125.4" y="1345.7" textLength="10.3" lengthAdjust="spacingAndGlyphs">40</text>
<text x="1145.19" y="1338.8" textLength="10.3" lengthAdjust="spacingAndGlyphs">43</text>
<text x="1164.99" y="1292.8" textLength="10.3" lengthAdjust="spacingAndGlyphs">63</text>
<text x="1184.79" y="1394" textLength="10.3" lengthAdjust="spacingAndGlyphs">19</text>
<text x="1204.58" y="1035.2" textLength="15.45" lengthAdjust="spacingAndGlyphs">175</text>
<text x="1224.38" y="1187" textLength="15.45" lengthAdjust="spacingAndGlyphs">109</text>
</g>
<g font-size="12.4" fill="#4d4d4d" text-anchor="middle">
<text x="749.27" y="1473.8">J</text>
<line x1="749.27" y1="1460.7" x2="749.27" y2="1463.5" stroke="#333" stroke-width="0.9"/>
<text x="769.07" y="1473.8">A</text>
<line x1="769.07" y1="1460.7" x2="769.07" y2="1463.5" stroke="#333" stroke-width="0.9"/>
<text x="788.87" y="1473.8">K</text>
<line x1="788.87" y1="1460.7" x2="788.87" y2="1463.5" stroke="#333" stroke-width="0.9"/>
<text x="808.66" y="1473.8">L</text>
<line x1="808.66" y1="1460.7" x2="808.66" y2="1463.5" stroke="#333" stroke-width="0.9"/>
<text x="828.46" y="1473.8">B</text>
<line x1="828.46" y1="1460.7" x2="828.46" y2="1463.5" stroke="#333" stroke-width="0.9"/>
<text x="848.25" y="1473.8">D</text>
<line x1="848.25" y1="1460.7" x2="848.25" y2="1463.5" stroke="#333" stroke-width="0.9"/>
<text x="868.05" y="1473.8">Y</text>
<line x1="868.05" y1="1460.7" x2="868.05" y2="1463.5" stroke="#333" stroke-width="0.9"/>
<text x="887.85" y="1473.8">V</text>
<line x1="887.85" y1="1460.7" x2="887.85" y2="1463.5" stroke="#333" stroke-width="0.9"/>
<text x="907.64" y="1473.8">T</text>
<line x1="907.64" y1="1460.7" x2="907.64" y2="1463.5" stroke="#333" stroke-width="0.9"/>
<text x="927.44" y="1473.8">M</text>
<line x1="927.44" y1="1460.7" x2="927.44" y2="1463.5" stroke="#333" stroke-width="0.9"/>
<text x="947.23" y="1473.8">N</text>
<line x1="947.23" y1="1460.7" x2="947.23" y2="1463.5" stroke="#333" stroke-width="0.9"/>
<text x="967.03" y="1473.8">Z</text>
<line x1="967.03" y1="1460.7" x2="967.03" y2="1463.5" stroke="#333" stroke-width="0.9"/>
<text x="986.83" y="1473.8">W</text>
<line x1="986.83" y1="1460.7" x2="986.83" y2="1463.5" stroke="#333" stroke-width="0.9"/>
<text x="1006.62" y="1473.8">U</text>
<line x1="1006.62" y1="1460.7" x2="1006.62" y2="1463.5" stroke="#333" stroke-width="0.9"/>
<text x="1026.42" y="1473.8">O</text>
<line x1="1026.42" y1="1460.7" x2="1026.42" y2="1463.5" stroke="#333" stroke-width="0.9"/>
<text x="1046.21" y="1473.8">C</text>
<line x1="1046.21" y1="1460.7" x2="1046.21" y2="1463.5" stroke="#333" stroke-width="0.9"/>
<text x="1066.01" y="1473.8">G</text>
<line x1="1066.01" y1="1460.7" x2="1066.01" y2="1463.5" stroke="#333" stroke-width="0.9"/>
<text x="1085.81" y="1473.8">E</text>
<line x1="1085.81" y1="1460.7" x2="1085.81" y2="1463.5" stroke="#333" stroke-width="0.9"/>
<text x="1105.6" y="1473.8">F</text>
<line x1="1105.6" y1="1460.7" x2="1105.6" y2="1463.5" stroke="#333" stroke-width="0.9"/>
<text x="1125.4" y="1473.8">H</text>
<line x1="1125.4" y1="1460.7" x2="1125.4" y2="1463.5" stroke="#333" stroke-width="0.9"/>
<text x="1145.19" y="1473.8">I</text>
<line x1="1145.19" y1="1460.7" x2="1145.19" y2="1463.5" stroke="#333" stroke-width="0.9"/>
<text x="1164.99" y="1473.8">P</text>
<line x1="1164.99" y1="1460.7" x2="1164.99" y2="1463.5" stroke="#333" stroke-width="0.9"/>
<text x="1184.79" y="1473.8">Q</text>
<line x1="1184.79" y1="1460.7" x2="1184.79" y2="1463.5" stroke="#333" stroke-width="0.9"/>
<text x="1204.58" y="1473.8">R</text>
<line x1="1204.58" y1="1460.7" x2="1204.58" y2="1463.5" stroke="#333" stroke-width="0.9"/>
<text x="1224.38" y="1473.8">S</text>
<line x1="1224.38" y1="1460.7" x2="1224.38" y2="1463.5" stroke="#333" stroke-width="0.9"/>
</g>
<g font-size="11.9" fill="#4d4d4d" text-anchor="end">
<line x1="735.2" y1="1441" x2="737.8" y2="1441" stroke="#333" stroke-width="0.9"/>
<text x="733" y="1445.2">0</text>
<line x1="735.2" y1="1326" x2="737.8" y2="1326" stroke="#333" stroke-width="0.9"/>
<text x="733" y="1330.2">50</text>
<line x1="735.2" y1="1211" x2="737.8" y2="1211" stroke="#333" stroke-width="0.9"/>
<text x="733" y="1215.2">100</text>
<line x1="735.2" y1="1096" x2="737.8" y2="1096" stroke="#333" stroke-width="0.9"/>
<text x="733" y="1100.2">150</text>
</g>
<text transform="translate(707.4 1239.5) rotate(-90)" font-size="14.4" text-anchor="middle" fill="#111" textLength="110" lengthAdjust="spacingAndGlyphs">Number of Genes</text>
<g font-size="7.9" fill="#111">
<rect x="1250.9" y="1061.2" width="13.9" height="13.8" fill="#ff0000"/>
<text x="1272.5" y="1070.9">J: Translation, ribosomal structure and biogenesis</text>
<rect x="1250.9" y="1076.34" width="13.9" height="13.8" fill="#ff9900"/>
<text x="1272.5" y="1086.04">A: RNA processing and modification</text>
<rect x="1250.9" y="1091.48" width="13.9" height="13.8" fill="#ffcc33"/>
<text x="1272.5" y="1101.18">K: Transcription</text>
<rect x="1250.9" y="1106.62" width="13.9" height="13.8" fill="#ff9999"/>
<text x="1272.5" y="1116.32">L: Replication, recombination and repair</text>
<rect x="1250.9" y="1121.76" width="13.9" height="13.8" fill="#ffaa88"/>
<text x="1272.5" y="1131.46">B: Chromatin structure and dynamics</text>
<rect x="1250.9" y="1136.9" width="13.9" height="13.8" fill="#cc0033"/>
<text x="1272.5" y="1146.6">D: Cell cycle control, cell division, chromosome partitioning</text>
<rect x="1250.9" y="1152.04" width="13.9" height="13.8" fill="#993366"/>
<text x="1272.5" y="1161.74">Y: Nuclear structure</text>
<rect x="1250.9" y="1167.18" width="13.9" height="13.8" fill="#996699"/>
<text x="1272.5" y="1176.88">V: Defense mechanisms</text>
<rect x="1250.9" y="1182.32" width="13.9" height="13.8" fill="#ff99cc"/>
<text x="1272.5" y="1192.02">T: Signal transduction mechanisms</text>
<rect x="1250.9" y="1197.46" width="13.9" height="13.8" fill="#33cc33"/>
<text x="1272.5" y="1207.16">M: Cell wall/membrane/envelope biogenesis</text>
<rect x="1250.9" y="1212.6" width="13.9" height="13.8" fill="#ccffff"/>
<text x="1272.5" y="1222.3">N: Cell motility</text>
<rect x="1250.9" y="1227.74" width="13.9" height="13.8" fill="#00ffff"/>
<text x="1272.5" y="1237.44">Z: Cytoskeleton</text>
<rect x="1250.9" y="1242.88" width="13.9" height="13.8" fill="#993399"/>
<text x="1272.5" y="1252.58">W: Extracellular structures</text>
<rect x="1250.9" y="1258.02" width="13.9" height="13.8" fill="#cccc66"/>
<text x="1272.5" y="1267.72">U: Intracellular trafficking, secretion, and vesicular transport</text>
<rect x="1250.9" y="1273.16" width="13.9" height="13.8" fill="#99cc00"/>
<text x="1272.5" y="1282.86">O: Posttranslational modification, protein turnover, chaperones</text>
<rect x="1250.9" y="1288.3" width="13.9" height="13.8" fill="#ffff00"/>
<text x="1272.5" y="1298">C: Energy production and conversion</text>
<rect x="1250.9" y="1303.44" width="13.9" height="13.8" fill="#99ccff"/>
<text x="1272.5" y="1313.14">G: Carbohydrate transport and metabolism</text>
<rect x="1250.9" y="1318.58" width="13.9" height="13.8" fill="#99cc33"/>
<text x="1272.5" y="1328.28">E: Amino acid transport and metabolism</text>
<rect x="1250.9" y="1333.72" width="13.9" height="13.8" fill="#0000ff"/>
<text x="1272.5" y="1343.42">F: Nucleotide transport and metabolism</text>
<rect x="1250.9" y="1348.86" width="13.9" height="13.8" fill="#ccffff"/>
<text x="1272.5" y="1358.56">H: Coenzyme transport and metabolism</text>
<rect x="1250.9" y="1364" width="13.9" height="13.8" fill="#00ff00"/>
<text x="1272.5" y="1373.7">I: Lipid transport and metabolism</text>
<rect x="1250.9" y="1379.14" width="13.9" height="13.8" fill="#663300"/>
<text x="1272.5" y="1388.84">P: Inorganic ion transport and metabolism</text>
<rect x="1250.9" y="1394.28" width="13.9" height="13.8" fill="#003366"/>
<text x="1272.5" y="1403.98">Q: Secondary metabolites biosynthesis, transport and catabolism</text>
<rect x="1250.9" y="1409.42" width="13.9" height="13.8" fill="#999999"/>
<text x="1272.5" y="1419.12">R: General function prediction only</text>
<rect x="1250.9" y="1424.56" width="13.9" height="13.8" fill="#333333"/>
<text x="1272.5" y="1434.26">S: Function unknown</text>
</g>
</g>
</svg>
</body>
</html>
